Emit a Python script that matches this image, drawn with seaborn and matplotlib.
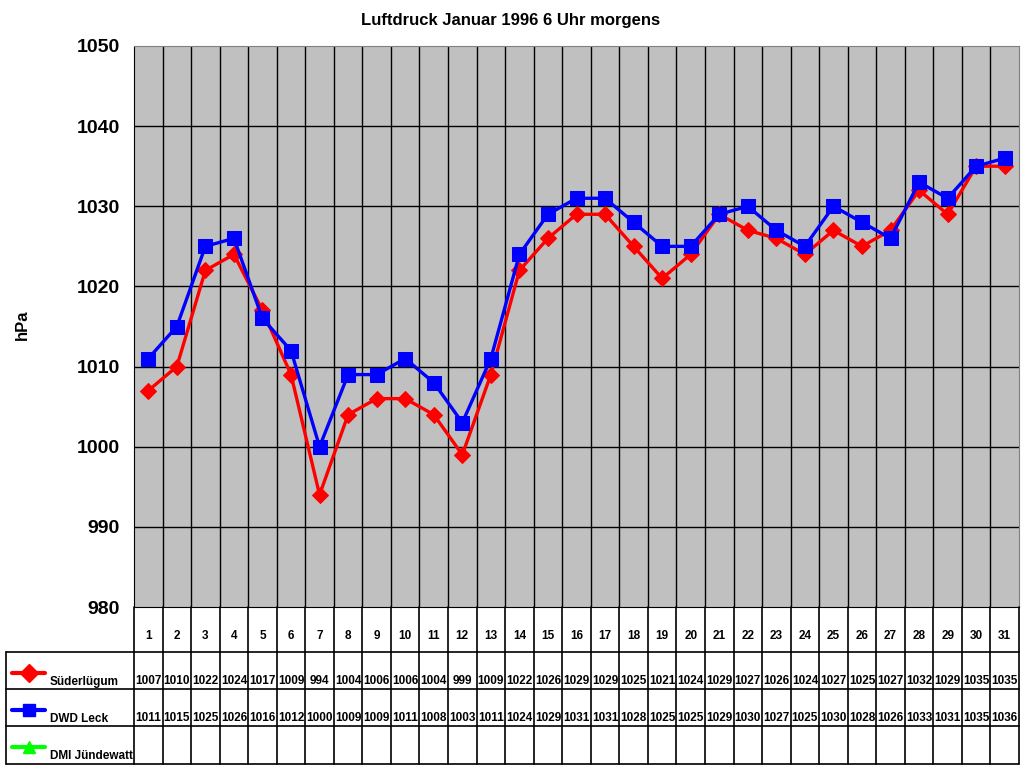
import numpy as np
import pandas as pd
import matplotlib
matplotlib.use("Agg")
import matplotlib.pyplot as plt
import seaborn as sns

# data
days = list(range(1, 32))
suederluegum = [1007, 1010, 1022, 1024, 1017, 1009, 994, 1004, 1006, 1006, 1004, 999, 1009, 1022,
                1026, 1029, 1029, 1025, 1021, 1024, 1029, 1027, 1026, 1024, 1027, 1025, 1027, 1032,
                1029, 1035, 1035]
dwd_leck = [1011, 1015, 1025, 1026, 1016, 1012, 1000, 1009, 1009, 1011, 1008, 1003, 1011, 1024,
            1029, 1031, 1031, 1028, 1025, 1025, 1029, 1030, 1027, 1025, 1030, 1028, 1026, 1033,
            1031, 1035, 1036]
dmi_juendewatt = [np.nan] * 31
series_names = ["Süderlügum", "DWD Leck", "DMI Jündewatt"]
series_colors = ["#ff0000", "#0000ff", "#00ff00"]
series_markers = ["D", "s", "^"]
series_msize = [8, 10, 10]

df = pd.DataFrame({"Tag": days, series_names[0]: suederluegum,
                   series_names[1]: dwd_leck, series_names[2]: dmi_juendewatt})

sns.set_style("white")
plt.rcParams["font.family"] = ["Liberation Sans", "DejaVu Sans"]
plt.rcParams.update({"text.color": "black", "axes.labelcolor": "black",
                     "xtick.color": "black", "ytick.color": "black"})

W, H = 1024, 768
fig = plt.figure(figsize=(W / 100, H / 100), dpi=100)
left, right, top, bot = 134, 1019, 46, 607
ax = fig.add_axes([left / W, 1 - bot / H, (right - left) / W, (bot - top) / H])
ax.set_facecolor("#c0c0c0")

for name, col, mk, ms in zip(series_names[:2], series_colors, series_markers, series_msize):
    sns.lineplot(data=df, x="Tag", y=name, ax=ax, color=col, marker=mk, markersize=ms,
                 markeredgecolor=col, linewidth=2.4, zorder=3)

ax.set_xlim(0.5, 31.5)
ax.set_ylim(980, 1050)
ax.set_yticks(np.arange(980, 1051, 10))
ax.set_xticks([])
for yv in np.arange(990, 1050, 10):
    ax.axhline(yv, color="black", lw=1, zorder=1)
for xv in np.arange(1.5, 31.5, 1):
    ax.axvline(xv, color="black", lw=1, zorder=1)
ax.tick_params(axis="y", length=6, width=1, color="black", direction="out", pad=4)
for lab in ax.get_yticklabels():
    lab.set_fontsize(14)
    lab.set_fontweight("bold")
    lab.set_color("black")
ax.spines["left"].set_color("black")
ax.spines["bottom"].set_color("black")
ax.spines["top"].set_color("#808080")
ax.spines["right"].set_color("#808080")
ax.set_xlabel("")
ax.set_ylabel("")
fig.text(22 / W, 1 - 325 / H, "hPa", rotation=90, fontsize=12, fontweight="bold",
         ha="center", va="center", color="black")
fig.text(511 / W, 1 - 20 / H, "Luftdruck Januar 1996 6 Uhr morgens", fontsize=12,
         fontweight="bold", ha="center", va="center", color="black")

# data table below the plot
tb_top, tb_bot = 607, 764
tax = fig.add_axes([left / W, 1 - tb_bot / H, (right - left) / W, (tb_bot - tb_top) / H])
tax.set_xlim(0.5, 31.5)
tax.set_ylim(tb_bot - tb_top, 0)
tax.axis("off")
colw = (right - left) / 31
xleft = 0.5 - (left - 6) / colw
rows = [45, 82, 119, 157]
kw = dict(color="black", lw=1.2, clip_on=False)
for xv in np.arange(0.5, 32, 1):
    tax.plot([xv, xv], [0, 157], **kw)
for yv in rows:
    tax.plot([xleft, 31.5], [yv, yv], **kw)
tax.plot([xleft, xleft], [45, 157], **kw)

fs = 8.5
for d in days:
    tax.text(d, 29, str(d), ha="center", va="center", fontsize=fs, fontweight="bold")
values = [suederluegum, dwd_leck, dmi_juendewatt]
for r, (name, col, mk, vals) in enumerate(zip(series_names, series_colors, series_markers, values)):
    y_txt = rows[r] + 29
    for d, v in zip(days, vals):
        if not np.isnan(v):
            tax.text(d, y_txt, f"{int(v)}", ha="center", va="center", fontsize=fs,
                     fontweight="bold")
    lx0 = xleft + 6 / colw
    lx1 = xleft + 39 / colw
    tax.plot([lx0, lx1], [y_txt - 8, y_txt - 8], color=col, lw=3, clip_on=False)
    tax.plot([(lx0 + lx1) / 2], [y_txt - 8], marker=mk, color=col, markersize=9,
             clip_on=False)
    tax.text(xleft + 44 / colw, y_txt + 1, name, ha="left", va="center", fontsize=fs,
             fontweight="bold")

fig.savefig("out.png", dpi=100)
